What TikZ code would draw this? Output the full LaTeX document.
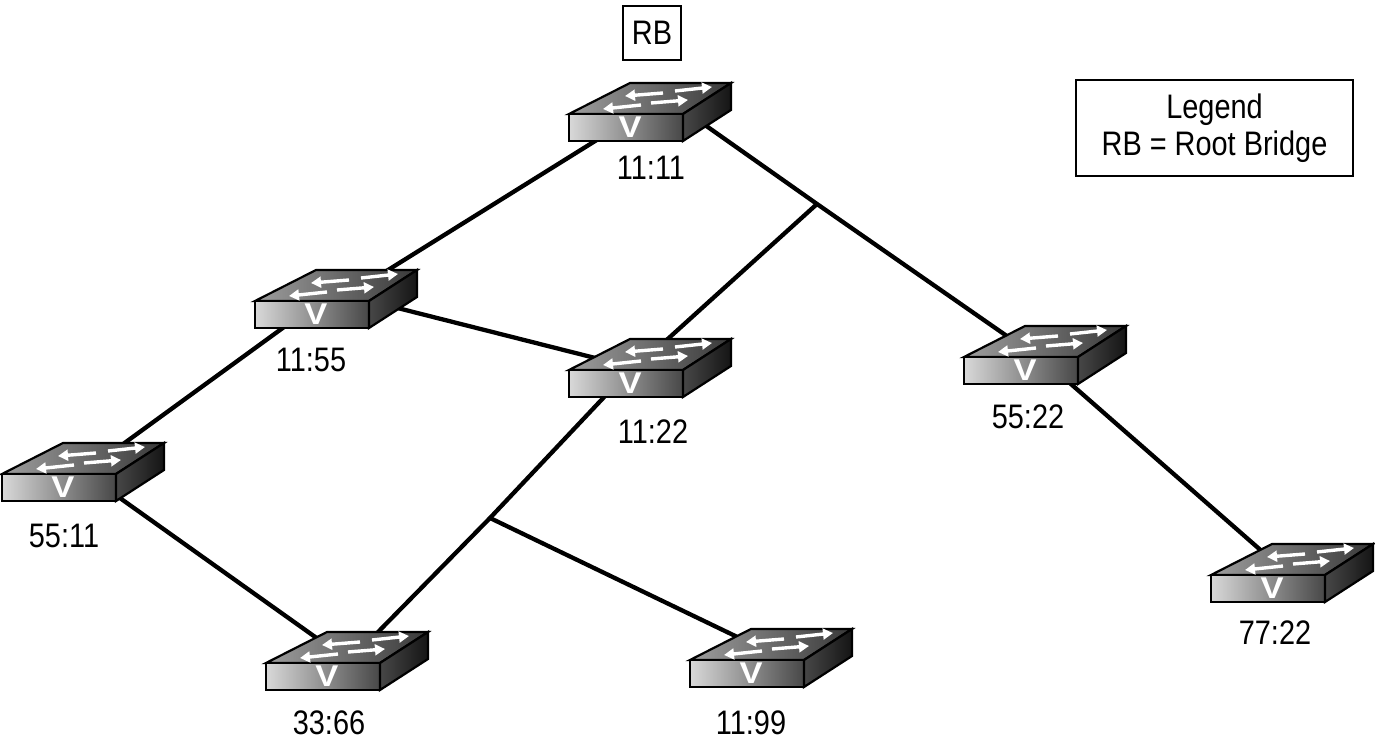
\documentclass[tikz,border=0pt]{standalone}
\usepackage{fontspec}
\setmainfont{Liberation Sans}[FakeStretch=0.85]
\newfontfamily\vmarkfont{Liberation Sans}[FakeStretch=1.15]
\usetikzlibrary{arrows.meta}
\tikzset{
  swbox/.style={inner sep=0pt,minimum width=50pt,minimum height=15pt},
  swlabel/.style={font=\fontsize{17}{19}\selectfont,inner sep=0pt},
  link/.style={line width=2.15pt},
  frame/.style={draw,line width=1pt,inner sep=0pt,align=center,font=\fontsize{17}{18.5}\selectfont},
  swarrow/.style={white,line width=1.7pt,-{Triangle[width=5.4pt,length=5pt]}},
  netswitch/.pic={
    \shadedraw[line width=1.1pt,left color=black!38,right color=black!78] (-81,2) -- (-20,-29) -- (81,-29) -- (33,2) -- cycle;
    \shadedraw[line width=1.1pt,left color=black!15,right color=black!72] (-81,2) -- (33,2) -- (33,29) -- (-81,29) -- cycle;
    \shadedraw[line width=1.1pt,left color=black!72,right color=black!92] (33,2) -- (81,-29) -- (81,-2) -- (33,29) -- cycle;
    \draw[swarrow] (13,-19) -- (-25,-16);
    \draw[swarrow] (25,-21) -- (62,-25);
    \draw[swarrow] (-9,-7) -- (-47,-3);
    \draw[swarrow] (1,-9) -- (38,-12);
    \node[white,inner sep=0pt,font=\vmarkfont\bfseries\fontsize{15}{15}\selectfont] (vmark) at (-20,15) {V};
  }
}
\begin{document}
\begin{tikzpicture}[x=0.5pt,y=-0.5pt]
  \useasboundingbox (0,0) rectangle (1375,742);

  % places
  \node[swbox] (sw1111) at (650,112) {};
  \node[swbox] (sw1155) at (336,299) {};
  \node[swbox] (sw1122) at (650,368) {};
  \node[swbox] (sw5522) at (1045,355) {};
  \node[swbox] (sw5511) at (83,472) {};
  \node[swbox] (sw3366) at (347,661) {};
  \node[swbox] (sw1199) at (771,658) {};
  \node[swbox] (sw7722) at (1292,573) {};
  \coordinate (jct1) at (817,204);
  \coordinate (jct2) at (490,518);

  % links
  \draw[link] (sw1111.205) -- (sw1155.27);
  \draw[link] (sw1111.-11) -- (jct1) -- (sw5522.155);
  \draw[link] (jct1) -- (sw1122.80);
  \draw[link] (sw1155.-7) -- (sw1122.170);
  \draw[link] (sw1155.204) -- (sw5511.34);
  \draw[link] (sw5511.-35) -- (sw3366.142);
  \draw[link] (sw1122.205) -- (jct2) -- (sw3366.41);
  \draw[link] (jct2) -- (sw1199.145);
  \draw[link] (sw5522.-56) -- (sw7722.146);

  % switches
  \pic (ic1111) at (sw1111) {netswitch};
  \pic (ic1155) at (sw1155) {netswitch};
  \pic (ic1122) at (sw1122) {netswitch};
  \pic (ic5522) at (sw5522) {netswitch};
  \pic (ic5511) at (sw5511) {netswitch};
  \pic (ic3366) at (sw3366) {netswitch};
  \pic (ic1199) at (sw1199) {netswitch};
  \pic (ic7722) at (sw7722) {netswitch};

  \node[swlabel] (lb1111) at (651,168) {11:11};
  \node[swlabel] (lb1155) at (311,360) {11:55};
  \node[swlabel] (lb1122) at (653,432) {11:22};
  \node[swlabel] (lb5522) at (1028,417) {55:22};
  \node[swlabel] (lb5511) at (64,536) {55:11};
  \node[swlabel] (lb3366) at (329,723) {33:66};
  \node[swlabel] (lb1199) at (751,723) {11:99};
  \node[swlabel] (lb7722) at (1275,633) {77:22};

  \node[frame,minimum width=29pt,minimum height=27pt] (rootbox) at (652,33) {RB};
  \node[frame,minimum width=138.5pt,minimum height=48pt] (legend) at (1214.5,128) {Legend\\RB = Root Bridge};
\end{tikzpicture}
\end{document}
